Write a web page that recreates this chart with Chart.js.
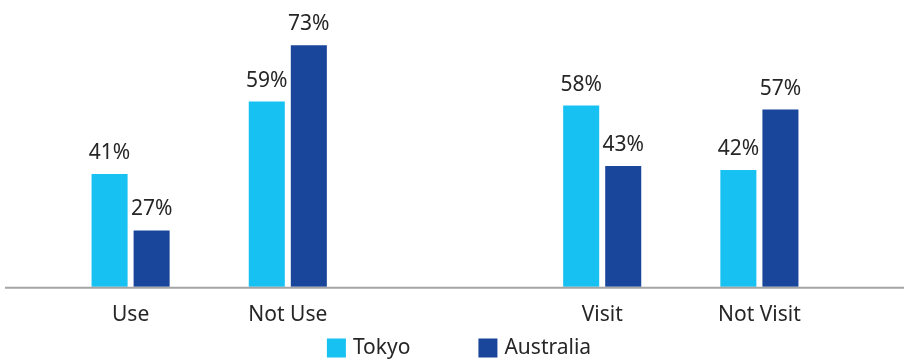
<!DOCTYPE html>
<html>
<head>
<meta charset="utf-8">
<script src="https://cdn.jsdelivr.net/npm/chart.js@4/dist/chart.umd.min.js"></script>
<style>
  html, body { margin: 0; padding: 0; background: #fff; }
  #wrap { width: 904px; height: 361px; position: relative; }
</style>
</head>
<body>
<div id="wrap"><canvas id="myChart"></canvas></div>
<script>
(function () {
    'use strict';

    // ── Data ───────────────────────────────────────────────────────────────────
    const categories = ['Use', 'Not Use', '', 'Visit', 'Not Visit'];
    const seriesNames = ['Tokyo', 'Australia'];
    const tokyoValues = [41, 59, null, 58, 42];
    const australiaValues = [27, 73, null, 43, 57];

    const FONT = "'Noto Sans', 'DejaVu Sans', sans-serif";
    const TEXT = '#262626';
    const COLORS = ['#17C1F2', '#19459B'];

    // ── Percentage labels above each bar ───────────────────────────────────────
    const valueLabels = {
        id: 'valueLabels',
        afterDatasetsDraw(chart) {
            const { ctx } = chart;
            ctx.save();
            ctx.font = '21px ' + FONT;
            ctx.fillStyle = TEXT;
            ctx.textAlign = 'center';
            ctx.textBaseline = 'alphabetic';
            chart.data.datasets.forEach((ds, di) => {
                chart.getDatasetMeta(di).data.forEach((bar, i) => {
                    const v = ds.data[i];
                    if (v == null) return;
                    ctx.fillText(v + '%', bar.x, bar.y - 15);
                });
            });
            ctx.restore();
        }
    };

    // ── Baseline running the full width of the canvas ──────────────────────────
    const baseLine = {
        id: 'baseLine',
        afterDatasetsDraw(chart) {
            const { ctx, chartArea } = chart;
            ctx.save();
            ctx.strokeStyle = '#A5A5A5';
            ctx.lineWidth = 2;
            ctx.beginPath();
            ctx.moveTo(5, chartArea.bottom + 1);
            ctx.lineTo(chart.width, chartArea.bottom + 1);
            ctx.stroke();
            ctx.restore();
        }
    };

    // ── Legend: square swatches, wide gap between the two entries ──────────────
    const swatchLegend = {
        id: 'swatchLegend',
        afterDraw(chart) {
            const { ctx } = chart;
            const box = 19, textGap = 7, itemGap = 68;
            const midY = 348;
            ctx.save();
            ctx.font = '21px ' + FONT;
            ctx.textBaseline = 'middle';
            ctx.textAlign = 'left';
            const widths = chart.data.datasets.map(ds => box + textGap + ctx.measureText(ds.label).width);
            const total = widths.reduce((a, b) => a + b, 0) + itemGap * (widths.length - 1);
            let x = (chart.width - total) / 2 + 7;
            chart.data.datasets.forEach((ds, i) => {
                ctx.fillStyle = ds.backgroundColor;
                ctx.fillRect(x, midY - box / 2, box, box);
                ctx.fillStyle = TEXT;
                ctx.fillText(ds.label, x + box + textGap, midY);
                x += widths[i] + itemGap;
            });
            ctx.restore();
        }
    };

    new Chart(document.getElementById('myChart'), {
        type: 'bar',
        data: {
            labels: categories,
            datasets: [
                {
                    label: seriesNames[0],
                    data: tokyoValues,
                    backgroundColor: COLORS[0],
                    categoryPercentage: 0.535,
                    barPercentage: 0.857
                },
                {
                    label: seriesNames[1],
                    data: australiaValues,
                    backgroundColor: COLORS[1],
                    categoryPercentage: 0.535,
                    barPercentage: 0.857
                }
            ]
        },
        options: {
            responsive: true,
            maintainAspectRatio: false,
            animation: false,
            layout: { padding: { top: 17, left: 52, right: 66, bottom: 25 } },
            plugins: {
                tooltip: { enabled: false },
                legend: { display: false }
            },
            scales: {
                x: {
                    grid: { display: false },
                    border: { display: false },
                    ticks: {
                        font: { family: FONT, size: 21 },
                        color: TEXT,
                        padding: 8,
                        maxRotation: 0
                    }
                },
                y: {
                    display: false,
                    min: 13,
                    max: 80
                }
            }
        },
        plugins: [valueLabels, baseLine, swatchLegend]
    });
}());
</script>
</body>
</html>
